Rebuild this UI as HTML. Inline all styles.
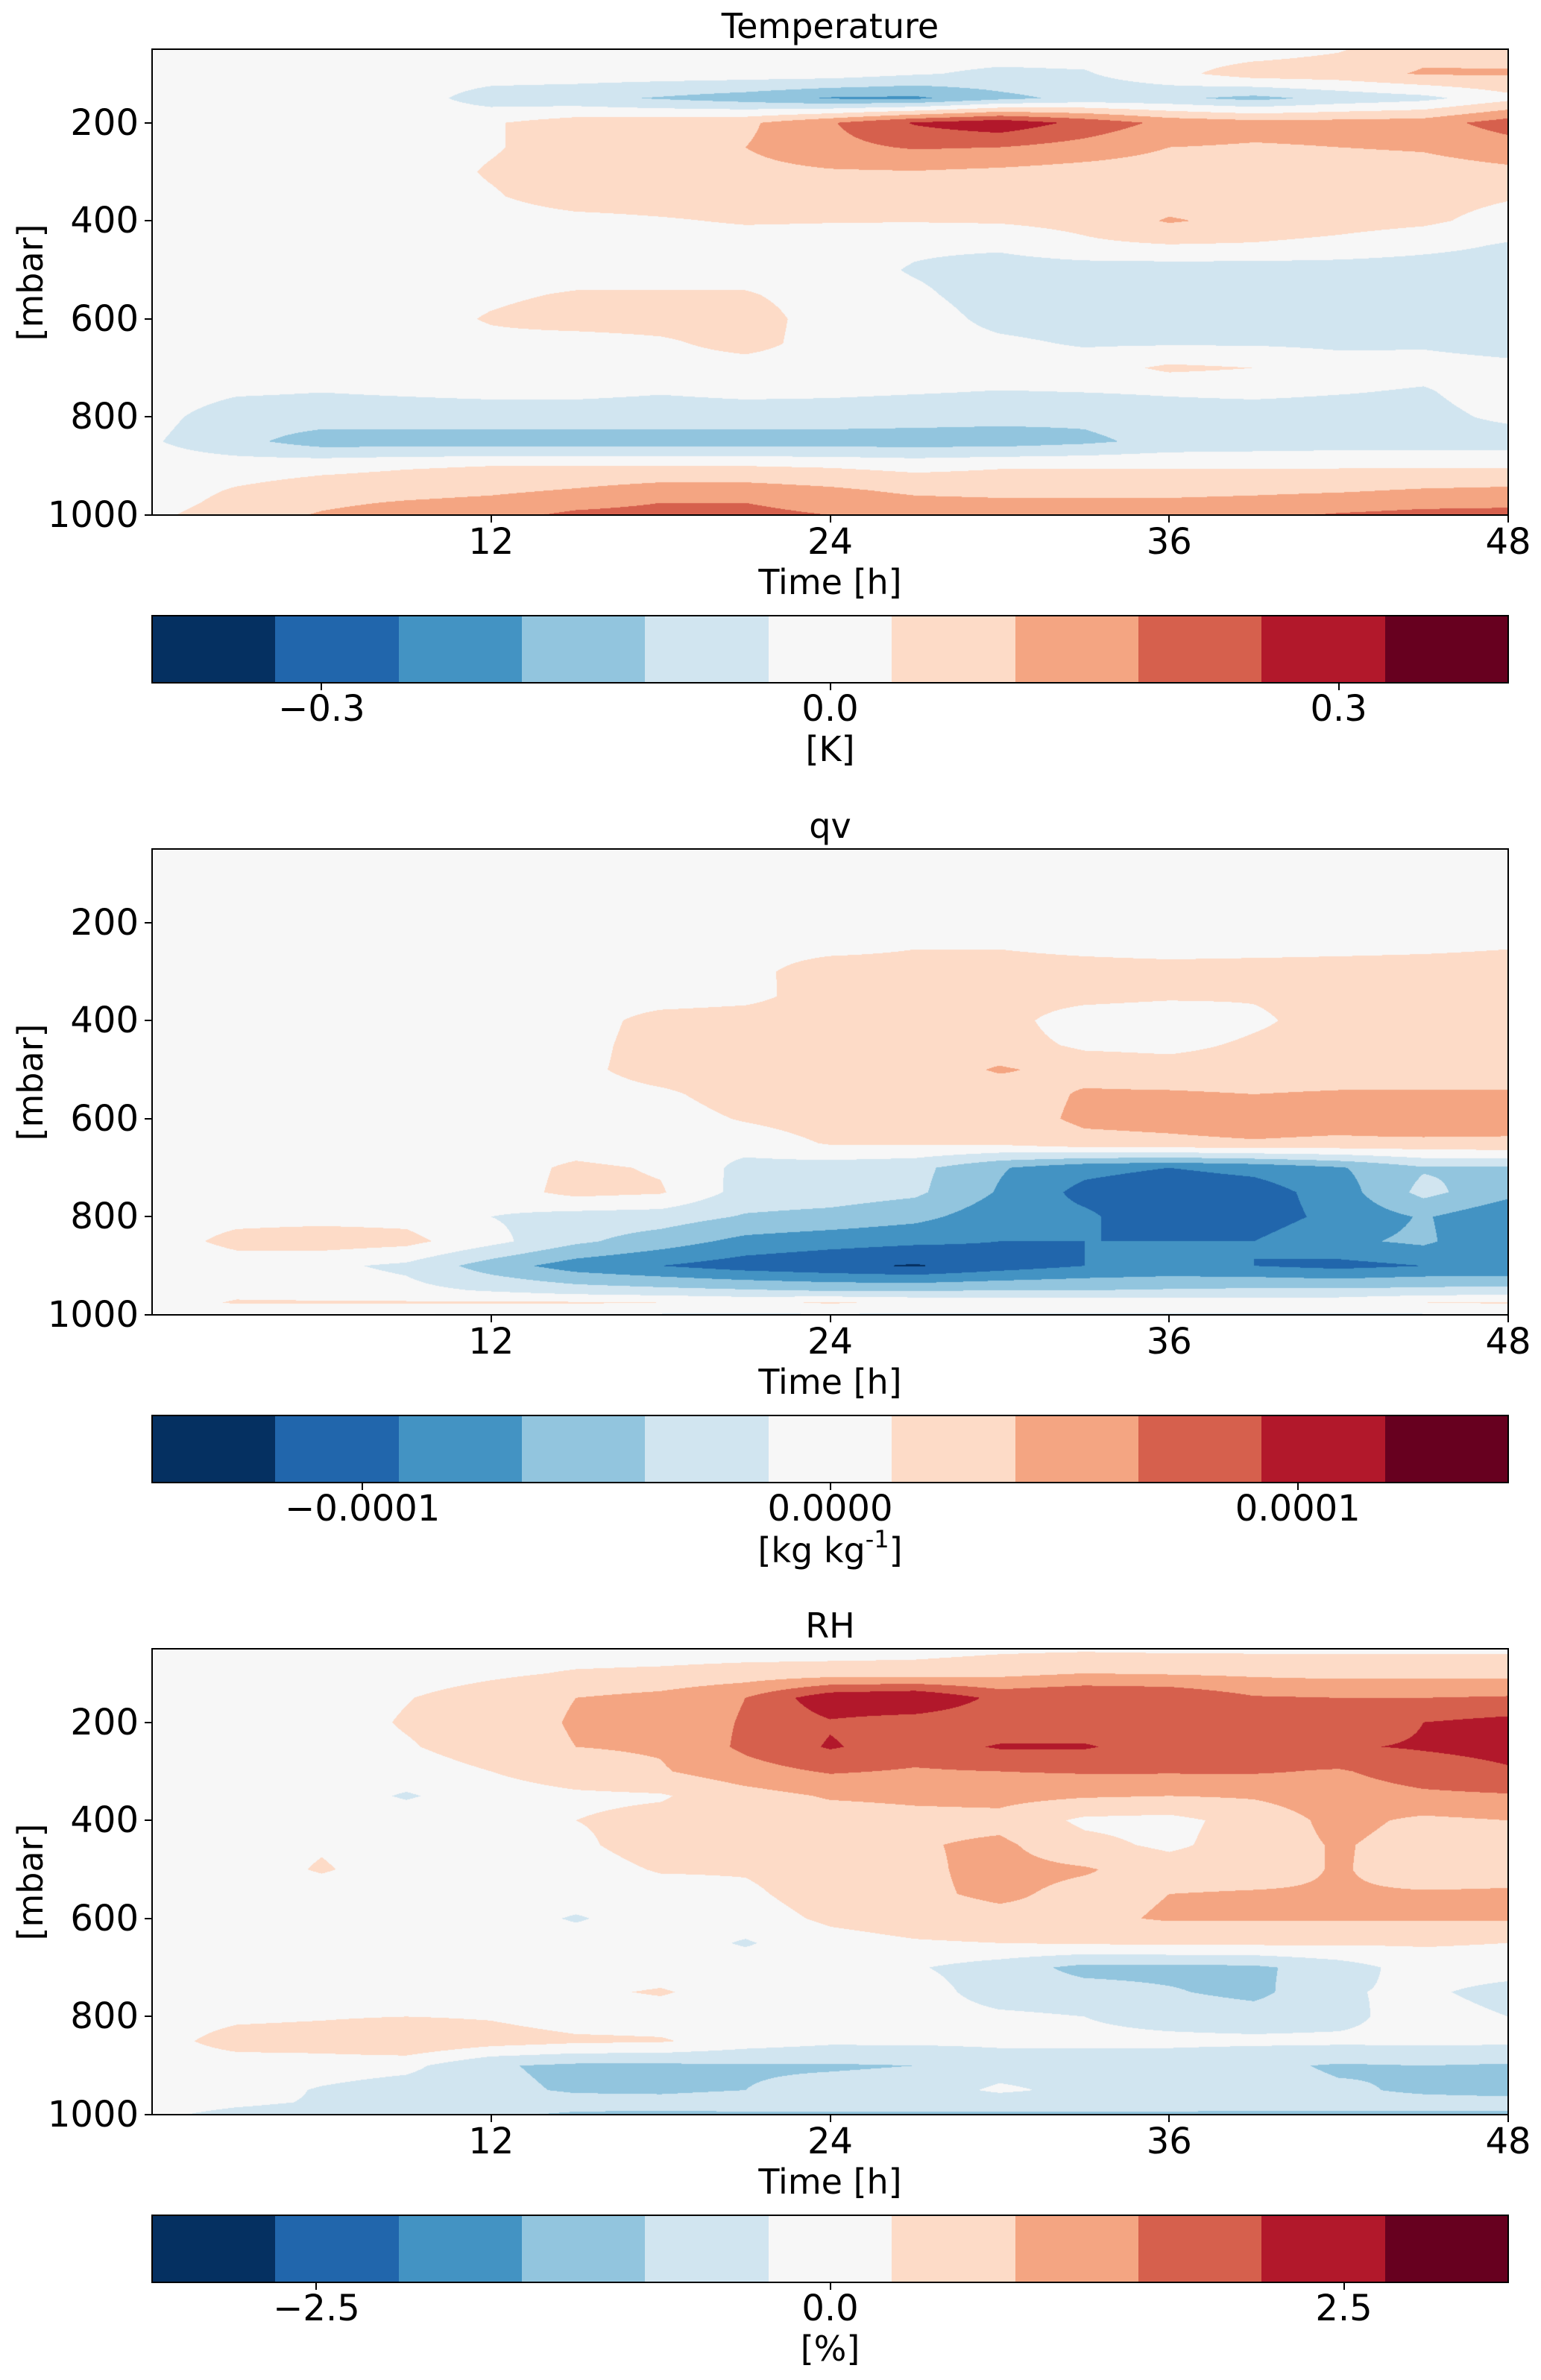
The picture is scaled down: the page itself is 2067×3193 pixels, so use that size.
<!DOCTYPE html>
<html><head><meta charset="utf-8">
<style>
body{margin:0;background:#fff;}
#root{position:relative;width:2067px;height:3193px;overflow:hidden;background:#fff;font-family:"DejaVu Sans","Liberation Sans",sans-serif;color:#000;}
.t{position:absolute;white-space:nowrap;font-size:46px;line-height:1;}
.frame{position:absolute;border:2px solid #000;box-sizing:border-box;}
.tick{position:absolute;background:#000;}
canvas{position:absolute;}
</style></head>
<body>
<div id="root"></div>
<script>
// Grid coordinates
const times=[0,3,6,9,12,15,18,21,24,27,30,33,36,39,42,45,48];
const pressures=[50,100,150,200,250,300,350,400,450,500,550,600,650,700,750,800,850,900,950,975,1000];
// Contour level colours (RdBu_r, 11 bins)
const binColors=["#053061","#2166ac","#4393c3","#92c5de","#d1e5f0","#f7f7f7","#fddbc7","#f4a582","#d6604d","#b2182b","#67001f"];
// Field values in units of the contour interval (0 = white bin), rows = pressures, cols = times
const tempValues=[
[0,0,0,0,0,0,0,0,0,0,0,0,0,0,0.4,1.2,1.1],
[0,0,0,0,0,0,0,0,0,-0.4,-0.7,-0.6,0.2,1,1.1,1.6,1.6],
[0,0,0,0,-1,-1.2,-1.6,-2,-2.6,-2.7,-1.8,-1.2,-1.3,-1.8,-1.2,-0.8,0.2],
[0,0,0,0,0.4,1,1.1,1.3,2.4,3.6,4.2,3.2,2.2,1.9,1.9,2,3],
[0,0,0,0,0.4,1,1.1,1.5,2.2,2.6,2.5,2.1,1.5,1.4,1.5,1.6,2],
[0,0,0,0,0.6,1,1,1.2,1.4,1.45,1.3,1.1,1,1,1,1.1,1.3],
[0,0,0,0,0.4,1,1,1,1,1,1,1,1,1,1,0.9,0.6],
[0,0,0,0,0,0.2,0.4,0.6,0.55,0.55,0.6,0.8,1.6,1.2,0.9,0.7,0.1],
[0,0,0,0,0,0,0,0,0,-0.3,-0.3,0.3,0.45,0.4,0.2,-0.2,-0.6],
[0,0,0,0,0,0,0,0,0,-0.6,-1,-1,-1,-1,-1,-1,-1],
[0,0,0,0,0.3,0.6,0.6,0.6,0,-0.3,-1,-1,-1,-1,-1,-1,-1],
[0,0,0,0,0.6,1,1,1,0,0,-0.8,-1,-1,-1,-1,-1,-1],
[0,0,0,0,0.2,0,0.3,0.9,0,0,-0.3,-0.6,-0.6,-0.6,-0.7,-0.6,-0.8],
[0,0,0,0,0,0,0,0,0,0,0,0,0.7,0.5,0,-0.2,-0.3],
[0,-0.4,-0.5,-0.4,-0.3,-0.3,-0.45,-0.3,-0.35,-0.45,-0.55,-0.5,-0.4,-0.3,-0.45,-0.6,0],
[-0.2,-1,-1,-1,-1,-1,-1,-1,-1,-1.1,-1.2,-1.3,-1,-1,-1,-0.8,-0.3],
[-0.4,-1.2,-2,-2,-2,-2,-2,-2,-2,-2,-2,-1.7,-1.2,-1.1,-1,-1,-1],
[0,0,0.2,0.4,0.5,0.5,0.5,0.5,0.4,0.2,0.4,0.4,0.4,0.4,0.4,0.4,0.4],
[0,0.6,1,1.1,1.3,1.6,2,2,1.7,1.3,1.2,1.2,1.2,1.3,1.4,1.6,1.7],
[0.1,0.8,1.3,1.6,1.8,2.2,2.5,2.5,2.1,1.8,1.7,1.7,1.7,1.8,2,2.2,2.3],
[0.3,1,1.6,2,2.2,2.7,2.8,2.8,2.5,2.2,2.1,2.1,2.2,2.3,2.6,2.8,2.8]];
const qvValues=[
[0,0,0,0,0,0,0,0,0,0,0,0,0,0,0,0,0],
[0,0,0,0,0,0,0,0,0,0,0,0,0,0,0,0,0],
[0,0,0,0,0,0,0,0,0,0,0,0,0,0,0,0,0],
[0,0,0,0,0,0,0,0,0,0,0,0,0,0,0,0,0],
[0,0,0,0,0,0,0,0,0.1,0.45,0.45,0.2,0,0.1,0.2,0.3,0.45],
[0,0,0,0,0,0,0,0.1,1.2,1,1,1,1,1,1,1,1],
[0,0,0,0,0,0,0,0.2,1,1,1,0.9,0.7,0.6,0.9,1,1],
[0,0,0,0,0,0,0.9,1,1,1,1,-0.2,-0.4,0.3,1,1,1],
[0,0,0,0,0,0.1,1,1,1,1,1,0.3,0.2,0.7,1,1,1],
[0,0,0,0,0,0.2,1,1,1,1,1.6,1.2,1,1,1,1,1],
[0,0,0,0,0,0,0.3,1,1,1,1,1.6,1.6,1.5,1.6,1.6,1.6],
[0,0,0,0,0,0,0,0.6,1,1,1,1.7,1.8,2,1.9,2.4,2],
[0,0,0,0,0,0,-0.3,-0.1,0.6,0.6,0.7,1.2,1.3,1.4,1.3,1.2,1.3],
[0,0,0,0,0,0.7,0.4,-0.8,-1,-1.2,-2.4,-3.2,-3.5,-3.2,-2.6,-1.6,-1.6],
[0,0,0,0,0,0.8,0.6,-0.9,-1,-1.3,-2.6,-3.8,-4.2,-4,-3,-1.2,-2.2],
[0,0.2,0.2,0.2,-0.5,-0.9,-1,-1.6,-1.8,-2.2,-3.1,-3.3,-4.3,-4,-3.2,-2.4,-3.3],
[0,0.8,1,0.8,-0.2,-1.3,-2,-2.8,-3.1,-3.3,-3.5,-3.5,-3.5,-3.5,-2.7,-2.3,-3.5],
[-0.3,0,-0.3,-0.7,-2,-3,-3.5,-4,-4.3,-4.6,-4,-3.5,-3.3,-3.5,-3.8,-3.5,-3.5],
[0,0.2,0,-0.2,-0.6,-1,-1.2,-1.4,-1.6,-1.6,-1.5,-1.5,-1.4,-1.3,-1.3,-1.2,-1.1],
[0,0.6,0.6,0.6,0.6,0.6,0.5,0.3,0.6,0.3,0.2,0.1,0.1,0.1,0.1,0.5,0.6],
[-0.2,-0.3,-0.4,-0.5,-0.6,-0.6,-0.6,-0.6,-0.6,-0.6,-0.6,-0.6,-0.6,-0.6,-0.6,-0.6,-0.6]];
const rhValues=[
[0,0,0,0,0,0,0,0,0,0.1,0.3,0.35,0.3,0.3,0.3,0.3,0.3],
[0,0,0,0,0.3,0.6,0.7,0.9,1,1,1.2,1.5,1.4,1.3,1.2,1.2,1.2],
[0,0,0,0.45,1,1.5,1.8,2.5,4.2,4.5,3.2,3.5,3.4,2.6,2.5,2.5,2.6],
[0,0,0,0.6,1,1.6,1.8,2.6,3.4,3,2.8,2.9,2.8,2.6,2.8,3.5,3.8],
[0,0,0,0.4,1,1.5,1.6,2.7,3.6,3,3.6,3.6,3,2.8,3.4,3.6,3.8],
[0,0,0,0,0.5,1.1,1.4,2.1,2.6,2.4,2.5,2.6,2.6,2.6,2.4,3,3.4],
[0,0,0,-0.6,0,0.3,0.4,1.1,1.6,1.7,1.8,1.6,1.5,1.6,2,2.3,2.4],
[0,0,0,0,0,0.5,0.8,1,1,1.2,1.2,0.3,0.2,0.9,1.8,1.3,1.5],
[0,0,0.4,0,0,0.3,1,1,1,1.4,1.7,0.8,0.3,1,1.6,1.1,1.1],
[0,0,0.6,0,0,0,0.6,0.6,1,1.3,1.8,1.6,1,1,1.6,1,1.2],
[0,0,0,0,0,0,0,0.3,1,1.3,1.7,1.2,1.5,1.6,1.6,1.6,1.6],
[0,0,0,0,0,-0.6,0,0,0.7,1,1.2,1.3,1.6,1.6,1.6,1.6,1.6],
[0,0,0,0,0,0,0,-0.6,0.1,0.4,0.5,0.6,0.7,0.7,0.65,0.6,0.5],
[0,0,0,0,0,0,0,0,0,-0.4,-1,-1.8,-1.8,-1.7,-1,0,0],
[0,0,0,0,0,0.3,0.6,0,0,0,-1,-1.1,-1.4,-1.8,-0.6,-0.3,-0.9],
[0,0.3,0.4,0.5,0.4,0,0,0,0,0,-0.3,-0.5,-0.8,-1,-0.8,0,-0.5],
[0.1,0.9,1,1.5,1,0.7,0.6,0,-0.3,-0.3,-0.3,-0.3,-0.3,-0.3,-0.3,-0.3,-0.3],
[0,0,0,-0.2,-1.4,-1.7,-1.7,-1.6,-1.6,-1.5,-1,-1,-1,-1.3,-1.6,-1.5,-1.6],
[0,0,-0.6,-1,-1.3,-1.6,-1.6,-1.5,-1.2,-1.1,-0.3,-0.8,-1,-1.2,-1.4,-1.6,-1.7],
[0,-0.3,-0.6,-0.9,-1,-1.2,-1.3,-1.2,-1.2,-1.2,-1.2,-1.2,-1.2,-1.3,-1.3,-1.3,-1.3],
[-0.3,-0.8,-1,-1.2,-1.4,-1.6,-1.6,-1.6,-1.6,-1.6,-1.6,-1.6,-1.6,-1.6,-1.6,-1.6,-1.6]];
// Axis ticks
const yTicks=[200,400,600,800,1000];
const xTicks=[12,24,36,48];
// Colorbar ranges and ticks
const tempRange=[-0.4,0.4];
const tempCbTicks=[-0.3,0,0.3];
const tempCbLabels=["\u22120.3","0.0","0.3"];
const qvRange=[-0.000145,0.000145];
const qvCbTicks=[-0.0001,0,0.0001];
const qvCbLabels=["\u22120.0001","0.0000","0.0001"];
const rhRange=[-3.3,3.3];
const rhCbTicks=[-2.5,0,2.5];
const rhCbLabels=["\u22122.5","0.0","2.5"];

const root=document.getElementById('root');
const AX_L=204, AX_W=1819, AX_H=625, TMIN=0, TMAX=48, PMIN=50, PMAX=1000;
function xs(t){return (t-TMIN)/(TMAX-TMIN)*AX_W;}
function ys(p){return (p-PMIN)/(PMAX-PMIN)*AX_H;}
function hex(c){return [parseInt(c.slice(1,3),16),parseInt(c.slice(3,5),16),parseInt(c.slice(5,7),16)];}
const rgb=binColors.map(hex);

function addText(txt,x,y,anchor,name,size){
  const d=document.createElement('div');
  d.className='t';
  
  
  d.innerHTML=txt;
  if(size) d.style.fontSize=size+'px';
  d.style.left=x+'px';d.style.top=y+'px';
  d.style.transform=anchor;
  root.appendChild(d);return d;
}
function addTick(x,y,w,h,name){
  const d=document.createElement('div');
  d.className='tick';
  
  
  d.style.left=x+'px';d.style.top=y+'px';d.style.width=w+'px';d.style.height=h+'px';
  root.appendChild(d);
}
function interp(data,t,p){
  let i=0;while(i<times.length-2&&t>times[i+1])i++;
  let j=0;while(j<pressures.length-2&&p>pressures[j+1])j++;
  const fx=(t-times[i])/(times[i+1]-times[i]);
  const fy=(p-pressures[j])/(pressures[j+1]-pressures[j]);
  const a=data[j][i],b=data[j][i+1],c=data[j+1][i],d=data[j+1][i+1];
  return (a*(1-fx)+b*fx)*(1-fy)+(c*(1-fx)+d*fx)*fy;
}
function panel(top,data,title,key,range,cbTicks,cbLabels,unit){
  addText(title,AX_L+AX_W/2,top-31,'translate(-50%,-50%)',key+'-title');
  const cv=document.createElement('canvas');
  
  
  cv.width=AX_W;cv.height=AX_H;cv.style.left=AX_L+'px';cv.style.top=top+'px';
  root.appendChild(cv);
  const ctx=cv.getContext('2d');const img=ctx.createImageData(AX_W,AX_H);
  for(let py=0;py<AX_H;py++){
    const p=PMIN+(py+0.5)/AX_H*(PMAX-PMIN);
    for(let px=0;px<AX_W;px++){
      const t=TMIN+(px+0.5)/AX_W*(TMAX-TMIN);
      let k=Math.floor(interp(data,t,p)+0.5)+5;
      k=Math.max(0,Math.min(10,k));
      const o=(py*AX_W+px)*4,c=rgb[k];
      img.data[o]=c[0];img.data[o+1]=c[1];img.data[o+2]=c[2];img.data[o+3]=255;
    }
  }
  ctx.putImageData(img,0,0);
  const fr=document.createElement('div');fr.className='frame';
  
  
  fr.style.left=(AX_L-1)+'px';fr.style.top=(top-1)+'px';fr.style.width=(AX_W+2)+'px';fr.style.height=(AX_H+2)+'px';
  root.appendChild(fr);
  yTicks.forEach(v=>{
    const y=top+ys(v);
    addTick(AX_L-10,y-1,10,2,key+'-y-tick');
    addText(String(v),AX_L-18,y,'translate(-100%,-50%)',key+'-y-tick-label',48);
  });
  xTicks.forEach(v=>{
    const x=AX_L+xs(v);
    addTick(x-1,top+AX_H,2,10,key+'-x-tick');
    addText(String(v),x,top+AX_H+36,'translate(-50%,-50%)',key+'-x-tick-label',48);
  });
  addText('Time [h]',AX_L+AX_W/2,top+AX_H+90,'translate(-50%,-50%)',key+'-x-axis-title');
  addText('[mbar]',41,top+AX_H/2,'translate(-50%,-50%) rotate(-90deg)',key+'-y-axis-title');
  // colorbar
  const cbTop=top+760,cbH=90;
  const cb=document.createElement('div');
  
  
  cb.style.cssText='position:absolute;left:'+AX_L+'px;top:'+cbTop+'px;width:'+AX_W+'px;height:'+cbH+'px;display:flex;';
  binColors.forEach(c=>{
    const s=document.createElement('div');
    
    
    s.style.cssText='flex:1;background:'+c+';';
    cb.appendChild(s);
  });
  root.appendChild(cb);
  const cf=document.createElement('div');cf.className='frame';
  
  
  cf.style.left=(AX_L-1)+'px';cf.style.top=(cbTop-1)+'px';cf.style.width=(AX_W+2)+'px';cf.style.height=(cbH+2)+'px';
  root.appendChild(cf);
  cbTicks.forEach((v,i)=>{
    const x=AX_L+(v-range[0])/(range[1]-range[0])*AX_W;
    addTick(x-1,cbTop+cbH,2,10,key+'-colorbar-tick');
    addText(cbLabels[i],x,cbTop+cbH+35,'translate(-50%,-50%)',key+'-colorbar-tick-label',48);
  });
  addText(unit,AX_L+AX_W/2,cbTop+cbH+89,'translate(-50%,-50%)',key+'-colorbar-label');
}
panel(66,tempValues,'Temperature','temperature',tempRange,tempCbTicks,tempCbLabels,'[K]');
panel(1139,qvValues,'qv','qv',qvRange,qvCbTicks,qvCbLabels,'[kg kg<sup style="font-size:32px;position:relative;top:-4px">-1</sup>]');
panel(2212,rhValues,'RH','rh',rhRange,rhCbTicks,rhCbLabels,'[%]');
</script>
</body></html>
